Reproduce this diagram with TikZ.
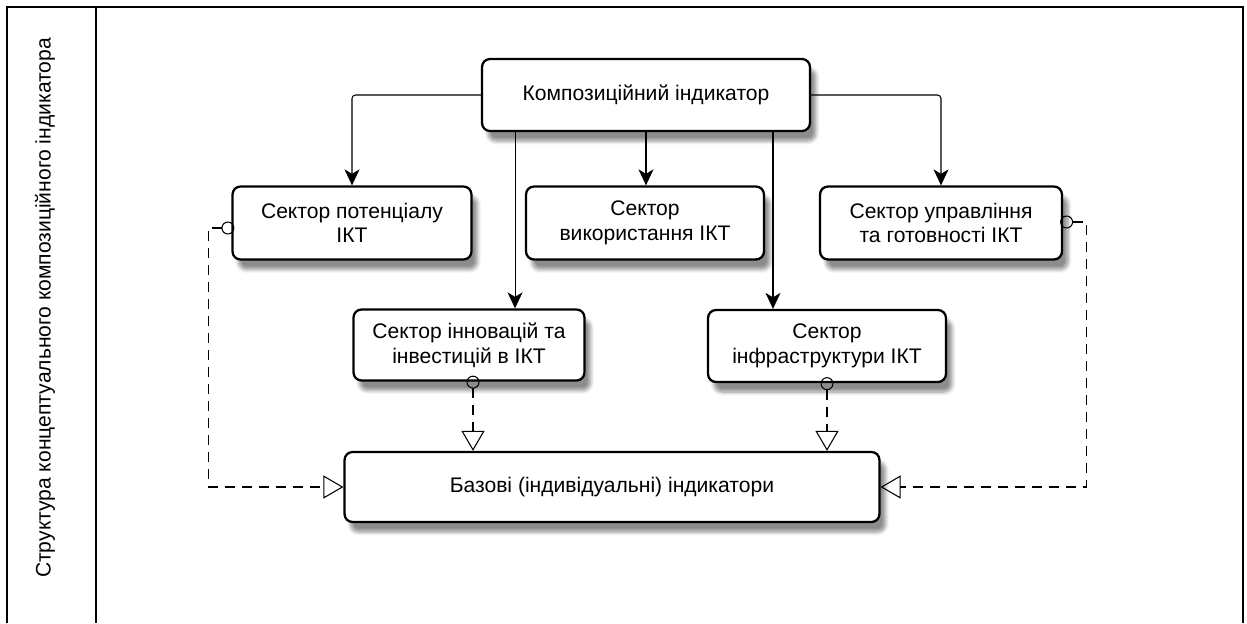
\documentclass[tikz,border=0pt]{standalone}
\usepackage{fontspec}
\setmainfont{Liberation Sans}
\usetikzlibrary{arrows.meta}
\usetikzlibrary{shadows.blur}

\begin{document}
\begin{tikzpicture}[x=0.02cm, y=-0.02cm,
	every node/.style={font=\fontsize{12pt}{14pt}\selectfont},
	sector/.style={draw, line width=1.3pt, rectangle, rounded corners=0.16cm, fill=white, align=center, inner sep=0pt, blur shadow={shadow xshift=0.12cm, shadow yshift=-0.2cm, shadow opacity=45, shadow blur steps=6}},
	link/.style={-{Stealth[length=0.32cm, width=0.3cm, inset=0.09cm]}, line width=0.6pt, rounded corners=2pt},
	dep/.style={{Circle[open, length=0.26cm, width=0.26cm]}-{Triangle[open, length=0.4cm, width=0.46cm]}, line width=0.6pt, dash pattern=on 0.2cm off 0.14cm}]
	\useasboundingbox (0,0) rectangle (1247,623);
	\draw[semithick] (7,623) -- (7,7) -- (1243,7) -- (1243,623);
	\draw[semithick] (96,7) -- (96,623);
	\node[rotate=90] (Caption) at (45,308) {Структура концептуального композиційного індикатора};
	\node[sector, minimum width=6.56cm, minimum height=1.44cm] (Composite) at (646, 95) {Композиційний індикатор};
	\node[sector, minimum width=4.78cm, minimum height=1.46cm] (Potential) at (352, 223) {Сектор потенціалу\\ІКТ};
	\node[sector, minimum width=4.76cm, minimum height=1.46cm] (Usage) at (645, 223) {Сектор\\використання ІКТ};
	\node[sector, minimum width=4.84cm, minimum height=1.46cm] (Governance) at (941, 223) {Сектор управління\\та готовності ІКТ};
	\node[sector, minimum width=4.62cm, minimum height=1.42cm] (Innovation) at (469, 345) {Сектор інновацій та\\інвестицій в ІКТ};
	\node[sector, minimum width=4.76cm, minimum height=1.44cm] (Infrastructure) at (827, 346) {Сектор\\інфраструктури ІКТ};
	\node[sector, minimum width=10.7cm, minimum height=1.4cm] (Basic) at (612, 487) {Базові (індивідуальні) індикатори};
	\draw[link] (Composite) -| (Potential);
	\draw[link] (Composite) -| (Governance);
	\draw[link] (Composite.south) -- (Composite.south |- Usage.north);
	\draw[link] ([xshift=-2.62cm]Composite.south) -- ([xshift=-2.62cm]Composite.south |- Innovation.north);
	\draw[link] ([xshift=2.54cm]Composite.south) -- ([xshift=2.54cm]Composite.south |- Infrastructure.north);
	\draw[dep, shorten <=-0.06cm] ([yshift=-0.1cm]Potential.west) -- ++(-23,0) |- (Basic.west);
	\draw[dep, shorten <=-0.06cm] ([yshift=0.02cm]Governance.east) -- ++(23,0) |- (Basic.east);
	\draw[dep, shorten <=-0.12cm] ([xshift=0.08cm]Innovation.south) -- ([xshift=0.08cm]Innovation.south |- Basic.north);
	\draw[dep, shorten <=-0.12cm] (Infrastructure.south) -- (Infrastructure.south |- Basic.north);
\end{tikzpicture}
\end{document}
